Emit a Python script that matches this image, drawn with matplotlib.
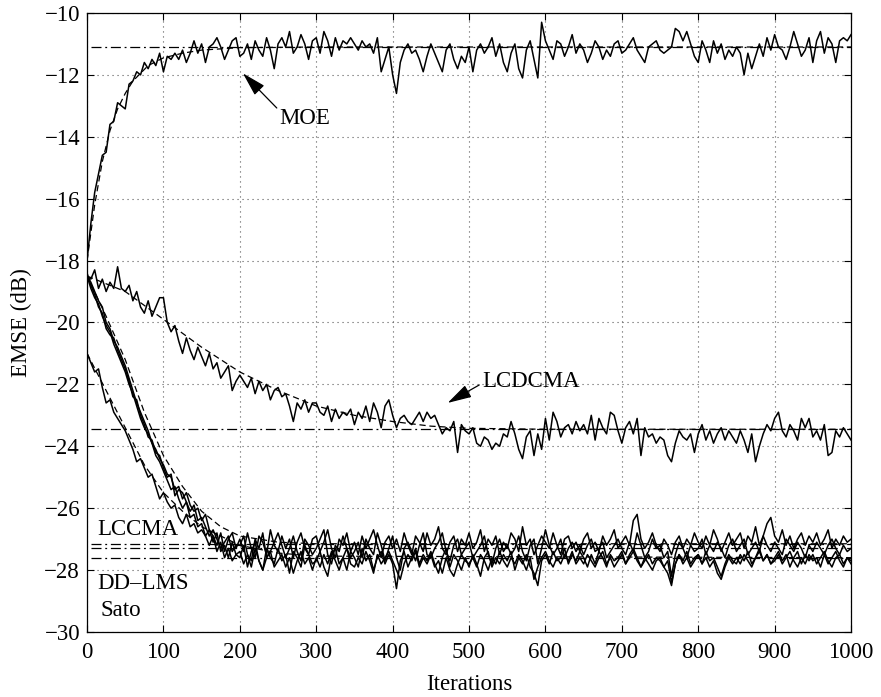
import numpy as np
import matplotlib
matplotlib.use('Agg')
import matplotlib.pyplot as plt

plt.rcParams['font.family'] = ['Liberation Serif', 'DejaVu Serif']
plt.rcParams['font.size'] = 16.5

# sampled every 5 iterations (0..1000)
step = 5

moe = [-18.0, -16.8, -15.8, -15.2, -14.6, -14.5, -13.6, -13.5, -12.9, -13.0,
       -13.1, -12.3, -12.2, -11.9, -12.0, -11.6, -11.8, -11.5, -11.7, -11.3,
       -11.9, -11.4, -11.5, -11.3, -11.5, -11.2, -11.6, -11.3, -10.9, -11.3,
       -11.0, -11.6, -11.1, -11.0, -10.8, -11.1, -11.5, -11.2, -10.9, -10.8,
       -11.4, -11.3, -11.0, -11.5, -10.9, -11.2, -11.4, -10.8, -11.2, -11.8,
       -11.0, -10.8, -11.1, -10.6, -11.3, -11.1, -10.7, -11.0, -11.5, -10.9,
       -10.8, -11.3, -10.6, -10.9, -11.4, -10.8, -11.2, -10.9, -11.0, -10.8,
       -11.0, -11.2, -10.9, -11.1, -11.0, -11.3, -10.8, -11.9, -11.5, -11.1,
       -12.0, -12.6, -11.6, -11.2, -11.0, -11.3, -11.2, -11.5, -11.9, -11.4,
       -11.0, -11.3, -11.6, -11.9, -11.2, -11.0, -11.5, -11.8, -11.4, -11.6,
       -11.1, -11.9, -11.2, -11.0, -11.3, -11.1, -10.8, -11.4, -11.0, -11.6,
       -11.9, -11.3, -11.0, -11.8, -12.1, -11.2, -10.9, -11.5, -12.1, -10.3,
       -10.9, -11.2, -11.5, -10.9, -11.0, -11.4, -11.1, -10.7, -11.3, -11.0,
       -11.2, -11.6, -11.3, -10.9, -11.1, -11.5, -11.2, -11.4, -11.0, -10.9,
       -11.3, -11.2, -11.0, -10.8, -11.2, -11.4, -11.6, -11.1, -11.0, -10.9,
       -11.2, -11.3, -11.2, -11.1, -10.5, -10.6, -10.9, -10.6, -11.0, -11.4,
       -11.6, -10.9, -11.2, -11.6, -10.9, -11.3, -11.0, -11.5, -11.2, -11.4,
       -11.1, -11.3, -12.0, -11.3, -11.8, -11.4, -11.0, -11.4, -10.8, -11.2,
       -10.7, -11.1, -11.2, -11.5, -11.1, -10.6, -11.0, -11.4, -11.2, -10.8,
       -11.6, -10.9, -10.6, -11.3, -10.8, -11.0, -11.6, -10.9, -10.8, -10.9,
       -10.7]

lcdcma = [-18.5, -18.6, -18.3, -18.9, -18.6, -19.0, -18.7, -18.9, -18.2, -18.9,
          -19.0, -18.8, -19.3, -19.0, -19.5, -19.7, -19.3, -19.8, -19.5, -19.2,
          -19.2, -20.0, -20.3, -20.1, -20.6, -21.0, -20.5, -20.9, -21.2, -20.8,
          -21.1, -21.4, -21.0, -21.5, -21.3, -21.8, -21.6, -21.4, -22.2, -21.9,
          -21.7, -21.9, -22.1, -21.8, -22.3, -21.9, -22.2, -22.0, -22.5, -22.2,
          -22.1, -22.4, -22.3, -22.7, -23.2, -22.6, -22.8, -22.5, -22.9, -22.6,
          -22.6, -22.9, -23.0, -22.7, -23.2, -22.8, -23.1, -22.9, -23.0, -22.8,
          -23.3, -22.9, -23.1, -22.7, -23.2, -22.6, -22.9, -23.4, -22.7, -22.5,
          -23.0, -23.4, -23.1, -23.0, -23.2, -23.3, -23.1, -22.9, -23.2, -22.9,
          -23.1, -23.0, -23.3, -23.6, -23.4, -23.5, -23.2, -24.2, -23.3, -23.5,
          -23.6, -23.4, -23.9, -24.0, -23.7, -23.8, -24.1, -23.9, -24.0, -23.6,
          -23.7, -23.2, -23.6, -24.1, -24.4, -23.7, -23.5, -24.3, -23.6, -24.1,
          -23.1, -23.8, -22.9, -23.2, -23.7, -23.4, -23.3, -23.6, -23.2, -23.5,
          -23.3, -23.6, -23.0, -23.8, -23.1, -23.4, -23.6, -22.9, -23.0, -23.5,
          -23.9, -23.4, -23.2, -23.6, -23.1, -24.3, -23.4, -23.7, -23.6, -23.9,
          -23.7, -23.8, -24.3, -24.5, -23.9, -23.5, -23.7, -23.8, -23.6, -24.2,
          -23.6, -23.3, -23.8, -23.5, -23.9, -23.6, -23.4, -23.8, -23.5, -23.7,
          -23.9, -23.5, -23.8, -24.2, -23.6, -24.5, -24.0, -23.6, -23.3, -23.5,
          -23.1, -22.9, -23.5, -23.7, -23.3, -23.5, -23.8, -23.1, -23.4, -23.1,
          -23.7, -23.5, -23.8, -23.3, -24.3, -24.2, -23.5, -23.7, -23.4, -23.6,
          -23.8]

lccma = [-18.5, -18.7, -19.0, -19.3, -19.5, -20.0, -20.2, -20.6, -20.8, -21.1,
         -21.4, -21.8, -22.2, -22.6, -22.9, -23.2, -23.5, -23.9, -24.1, -24.4,
         -24.6, -24.9, -25.0, -25.4, -25.3, -25.7, -25.5, -25.9, -26.1, -26.0,
         -26.4, -26.2, -26.7, -26.9, -27.2, -26.8, -27.4, -27.0, -26.8, -27.3,
         -27.0, -27.4, -26.8, -27.3, -27.6, -26.9, -27.1, -27.5, -26.7, -27.2,
         -27.4, -26.9, -27.3, -27.0, -27.6, -27.1, -26.8, -27.3, -27.5, -27.0,
         -26.9, -27.4, -27.1, -26.7, -27.3, -27.6, -27.0, -27.2, -26.8, -27.4,
         -27.1, -27.5, -26.9, -27.3, -27.0, -26.7, -27.2, -27.6, -27.1, -26.9,
         -27.3, -27.0, -27.4, -26.8, -27.2, -27.5, -26.9, -27.1, -27.4, -26.8,
         -27.2, -27.0, -26.6, -27.3, -27.5, -27.1, -26.9, -27.4, -27.0, -27.2,
         -26.8, -27.3, -27.1, -26.7, -27.4, -27.0, -27.2, -26.9, -27.5, -27.1,
         -27.3, -26.8, -27.0, -27.4, -26.6, -27.2, -27.0, -27.5, -27.2, -26.9,
         -27.1, -27.3, -26.8, -27.2, -27.5, -27.0, -26.9, -27.3, -27.1, -27.4,
         -27.0, -26.8, -27.3, -27.1, -27.4, -26.9, -27.2, -27.0, -26.7, -27.3,
         -27.1, -26.9, -27.2, -26.4, -26.2, -27.0, -27.3, -27.1, -26.8, -27.2,
         -27.4, -27.0, -27.2, -27.5, -27.1, -26.9, -27.3, -27.0, -27.2, -26.8,
         -27.1, -27.3, -26.9, -27.2, -26.7, -27.0, -27.4, -27.1, -26.8, -27.2,
         -27.0, -26.8, -27.3, -26.9, -27.1, -26.6, -27.2, -26.9, -26.5, -26.3,
         -26.9, -27.1, -26.7, -27.2, -26.9, -27.3, -27.0, -26.8, -27.2, -26.9,
         -27.1, -26.8, -27.2, -27.0, -26.7, -27.3, -27.0, -27.2, -26.9, -27.1,
         -27.0]

sato = [-18.5, -18.9, -19.2, -19.4, -19.8, -20.1, -20.3, -20.7, -21.0, -21.3,
        -21.6, -22.0, -22.3, -22.7, -23.1, -23.4, -23.6, -23.9, -24.3, -24.5,
        -24.8, -25.1, -25.4, -25.3, -25.7, -26.0, -25.8, -26.3, -26.2, -26.6,
        -26.5, -26.9, -26.7, -27.1, -26.8, -27.4, -27.2, -27.6, -27.1, -27.5,
        -27.6, -27.2, -27.9, -27.4, -27.1, -27.7, -28.0, -27.3, -27.6, -27.8,
        -27.3, -27.7, -27.5, -28.1, -27.4, -27.6, -27.9, -27.2, -27.5, -27.8,
        -27.7, -27.4, -27.9, -28.2, -27.5, -27.3, -27.8, -27.6, -28.0, -27.4,
        -27.6, -27.9, -27.3, -27.7, -27.5, -28.0, -27.6, -27.4, -27.8, -27.5,
        -27.8, -28.6, -27.7, -27.4, -27.9, -27.6, -27.3, -27.8, -27.5, -27.7,
        -27.4, -27.8, -28.1, -27.6, -27.3, -27.9, -27.5, -27.7, -28.0, -27.6,
        -27.9, -27.5, -27.8, -28.2, -27.6, -27.4, -27.9, -27.6, -27.8, -27.5,
        -27.7, -27.4, -28.0, -27.6, -27.8, -27.5, -27.9, -28.1, -28.5, -27.7,
        -27.5, -27.8, -27.4, -27.7, -27.6, -27.3, -27.8, -27.5, -27.7, -27.4,
        -27.6, -27.9, -27.5, -27.8, -27.4, -27.6, -27.9, -27.5, -27.7, -27.6,
        -27.4, -27.8, -27.5, -27.3, -27.6, -27.9, -27.7, -27.5, -27.8, -27.6,
        -27.7, -27.9, -28.1, -28.5, -27.8, -27.5, -27.7, -27.4, -27.8, -27.6,
        -27.5, -27.8, -27.4, -27.7, -27.6, -27.9, -28.2, -27.8, -27.5, -27.7,
        -27.8, -27.5, -27.7, -27.4, -27.8, -27.6, -27.3, -27.7, -27.5, -27.8,
        -27.6, -27.4, -27.7, -27.5, -27.9, -27.6, -27.4, -27.8, -27.5, -27.7,
        -27.5, -27.8, -27.6, -27.4, -27.7, -27.9, -27.6, -27.5, -27.8, -27.6,
        -27.7]

third = [-18.4, -18.8, -19.1, -19.5, -19.7, -20.2, -20.4, -20.5, -20.9, -21.2,
         -21.5, -21.9, -22.4, -22.5, -23.0, -23.3, -23.7, -23.8, -24.2, -24.3,
         -24.7, -25.0, -24.9, -25.6, -25.4, -25.5, -25.8, -26.1, -25.9, -26.4,
         -26.3, -26.6, -26.9, -26.7, -27.0, -27.3, -27.1, -26.9, -27.4, -27.2,
         -27.2, -26.9, -27.5, -27.7, -27.0, -27.3, -26.8, -27.6, -27.4, -27.1,
         -26.8, -27.2, -27.6, -27.3, -26.9, -27.4, -27.7, -27.0, -27.2, -27.5,
         -27.3, -27.0, -26.7, -27.5, -27.8, -27.2, -27.4, -26.9, -27.3, -27.6,
         -27.4, -27.1, -27.6, -27.0, -27.3, -27.5, -26.8, -27.2, -27.7, -27.3,
         -26.9, -27.6, -28.0, -27.3, -27.1, -27.4, -27.7, -27.2, -26.8, -27.5,
         -27.6, -27.3, -27.1, -26.8, -27.4, -27.7, -27.2, -27.0, -27.5, -27.3,
         -27.1, -27.6, -27.4, -27.2, -26.9, -27.5, -27.8, -27.3, -27.0, -27.4,
         -27.2, -27.5, -27.3, -26.9, -27.4, -27.7, -27.2, -27.0, -27.8, -27.3,
         -26.7, -27.2, -27.5, -27.3, -27.0, -27.6, -27.3, -27.1, -27.4, -27.2,
         -27.5, -27.2, -27.0, -27.4, -27.3, -27.1, -27.6, -27.4, -27.2, -27.0,
         -27.3, -27.5, -27.1, -27.4, -26.8, -27.2, -27.6, -27.4, -27.0, -27.3,
         -27.2, -27.6, -27.4, -28.2, -27.5, -27.1, -27.3, -27.6, -27.2, -27.4,
         -27.3, -27.0, -27.5, -27.2, -27.4, -27.1, -27.3, -27.6, -27.2, -27.0,
         -27.4, -27.2, -27.0, -27.5, -27.3, -27.1, -27.4, -26.9, -27.2, -27.4,
         -27.1, -27.3, -27.5, -27.0, -27.2, -27.4, -27.1, -27.3, -27.6, -27.2,
         -27.4, -27.1, -27.3, -27.5, -27.2, -27.0, -27.3, -27.5, -27.2, -27.4,
         -27.3]

ddlms = [-21.0, -21.3, -21.6, -21.5, -22.1, -22.6, -22.5, -22.9, -23.1, -23.3,
         -23.5, -23.8, -24.1, -24.5, -24.4, -24.7, -25.0, -24.9, -25.3, -25.7,
         -25.5, -25.8, -26.0, -25.9, -26.3, -26.5, -26.2, -26.6, -26.5, -26.8,
         -26.7, -26.9, -27.2, -26.9, -27.4, -27.1, -27.6, -27.3, -27.7, -27.5,
         -27.4, -27.8, -27.5, -27.9, -27.3, -27.7, -28.0, -27.6, -27.4, -27.9,
         -27.7, -27.5, -27.9, -27.6, -28.1, -27.7, -27.4, -27.8, -27.6, -28.0,
         -27.6, -27.9, -27.5, -27.8, -27.4, -27.7, -28.0, -27.6, -27.3, -27.8,
         -27.9, -27.6, -27.8, -27.4, -27.7, -28.1, -27.5, -27.8, -27.6, -27.4,
         -27.7, -28.0, -28.3, -27.8, -27.5, -27.7, -27.4, -27.9, -27.6, -27.8,
         -27.5, -27.9, -27.7, -28.1, -27.6, -28.0, -28.2, -27.8, -27.5, -27.7,
         -27.8, -27.6, -27.9, -27.5, -27.7, -28.0, -27.6, -27.8, -27.4, -27.7,
         -27.9, -27.6, -27.8, -27.5, -27.7, -28.0, -27.6, -28.3, -27.9, -27.6,
         -27.4, -27.7, -27.9, -27.6, -27.8, -27.5, -27.7, -27.4, -27.8, -27.6,
         -27.8, -27.5, -27.7, -27.9, -27.6, -27.4, -27.8, -27.6, -27.9, -27.7,
         -27.5, -27.8, -27.6, -27.4, -27.7, -27.9, -27.6, -27.8, -28.0, -27.7,
         -27.6, -27.9, -27.7, -28.4, -27.8, -27.5, -27.8, -27.6, -27.9, -27.7,
         -27.5, -27.8, -27.6, -27.9, -27.7, -28.1, -28.3, -27.9, -27.6, -27.8,
         -27.6, -27.8, -27.5, -27.7, -27.9, -27.6, -27.4, -27.7, -27.5, -27.8,
         -27.7, -27.5, -27.8, -27.6, -27.4, -27.7, -27.9, -27.6, -27.8, -27.5,
         -27.7, -27.6, -27.9, -27.5, -27.8, -27.6, -27.4, -27.7, -27.9, -27.6,
         -27.8]

# theoretical transient curves (dashed)
moe_th_x = [0, 10, 20, 30, 40, 50, 60, 80, 100, 125, 150, 200, 300, 1000]
moe_th = [-18.0, -16.2, -14.8, -13.8, -13.1, -12.6, -12.2, -11.7, -11.45, -11.3, -11.2, -11.12, -11.1, -11.1]
lcd_th_x = [0, 50, 100, 150, 200, 250, 300, 350, 400, 450, 500, 600, 1000]
lcd_th = [-18.5, -19.0, -19.9, -20.8, -21.6, -22.2, -22.7, -23.0, -23.2, -23.35, -23.42, -23.45, -23.45]
low_th_x = [0, 25, 50, 75, 100, 125, 150, 175, 200, 250, 300, 1000]
low_th = [-18.5, -19.8, -21.2, -22.9, -24.3, -25.3, -26.1, -26.6, -26.9, -27.1, -27.15, -27.15]
dd_th_x = [0, 25, 50, 75, 100, 125, 150, 200, 250, 300, 1000]
dd_th = [-21.0, -22.2, -23.4, -24.6, -25.5, -26.1, -26.6, -27.2, -27.45, -27.55, -27.6]

# steady-state levels (dash-dot)
steady_levels = [-11.1, -23.45, -27.15, -27.3, -27.6]

fig = plt.figure(figsize=(8.81, 6.97), dpi=100)
ax = fig.add_axes([0.0988, 0.0933, 0.8672, 0.8881])

for lev in steady_levels:
    ax.plot([5, 1000], [lev, lev], color='black', lw=0.9, ls=(0, (8, 3, 1.5, 3)))

for tx, ty in [(moe_th_x, moe_th), (lcd_th_x, lcd_th), (low_th_x, low_th), (dd_th_x, dd_th)]:
    ax.plot(tx, ty, color='black', lw=0.9, ls=(0, (5, 3)))

for s in [moe, lcdcma, lccma, sato, third, ddlms]:
    xs = np.arange(len(s)) * step
    ax.plot(xs, s, color='black', lw=1.1)

ax.set_xlim(0, 1000)
ax.set_ylim(-30, -10)
ax.set_xticks(np.arange(0, 1001, 100))
ax.set_yticks(np.arange(-30, -9, 2))
ax.tick_params(direction='in', top=True, right=True, length=5, width=0.8)
ax.tick_params(axis='x', pad=7)
ax.tick_params(axis='y', pad=5)
ax.grid(True, color='0.35', ls=(0, (1, 3.5)), lw=0.8)
for sp in ax.spines.values():
    sp.set_linewidth(0.9)

ax.set_xlabel('Iterations', labelpad=8)
ax.set_ylabel('EMSE (dB)', labelpad=9)

ax.annotate('MOE', xy=(204, -11.95), xytext=(252, -13.4), ha='left', va='center',
            arrowprops=dict(arrowstyle='-|>,head_length=0.9,head_width=0.25', color='black',
                            lw=0.9, relpos=(0, 0.85), shrinkA=0, shrinkB=0))
ax.annotate('LCDCMA', xy=(472, -22.6), xytext=(517, -21.9), ha='left', va='center',
            arrowprops=dict(arrowstyle='-|>,head_length=0.9,head_width=0.25', color='black',
                            lw=0.9, relpos=(0, 0.4), shrinkA=0, shrinkB=0))
ax.text(13, -26.7, 'LCCMA', ha='left', va='center')
ax.text(14, -28.45, 'DD\u2013LMS', ha='left', va='center')
ax.text(17, -29.3, 'Sato', ha='left', va='center')

fig.savefig('out.png', dpi=100)
